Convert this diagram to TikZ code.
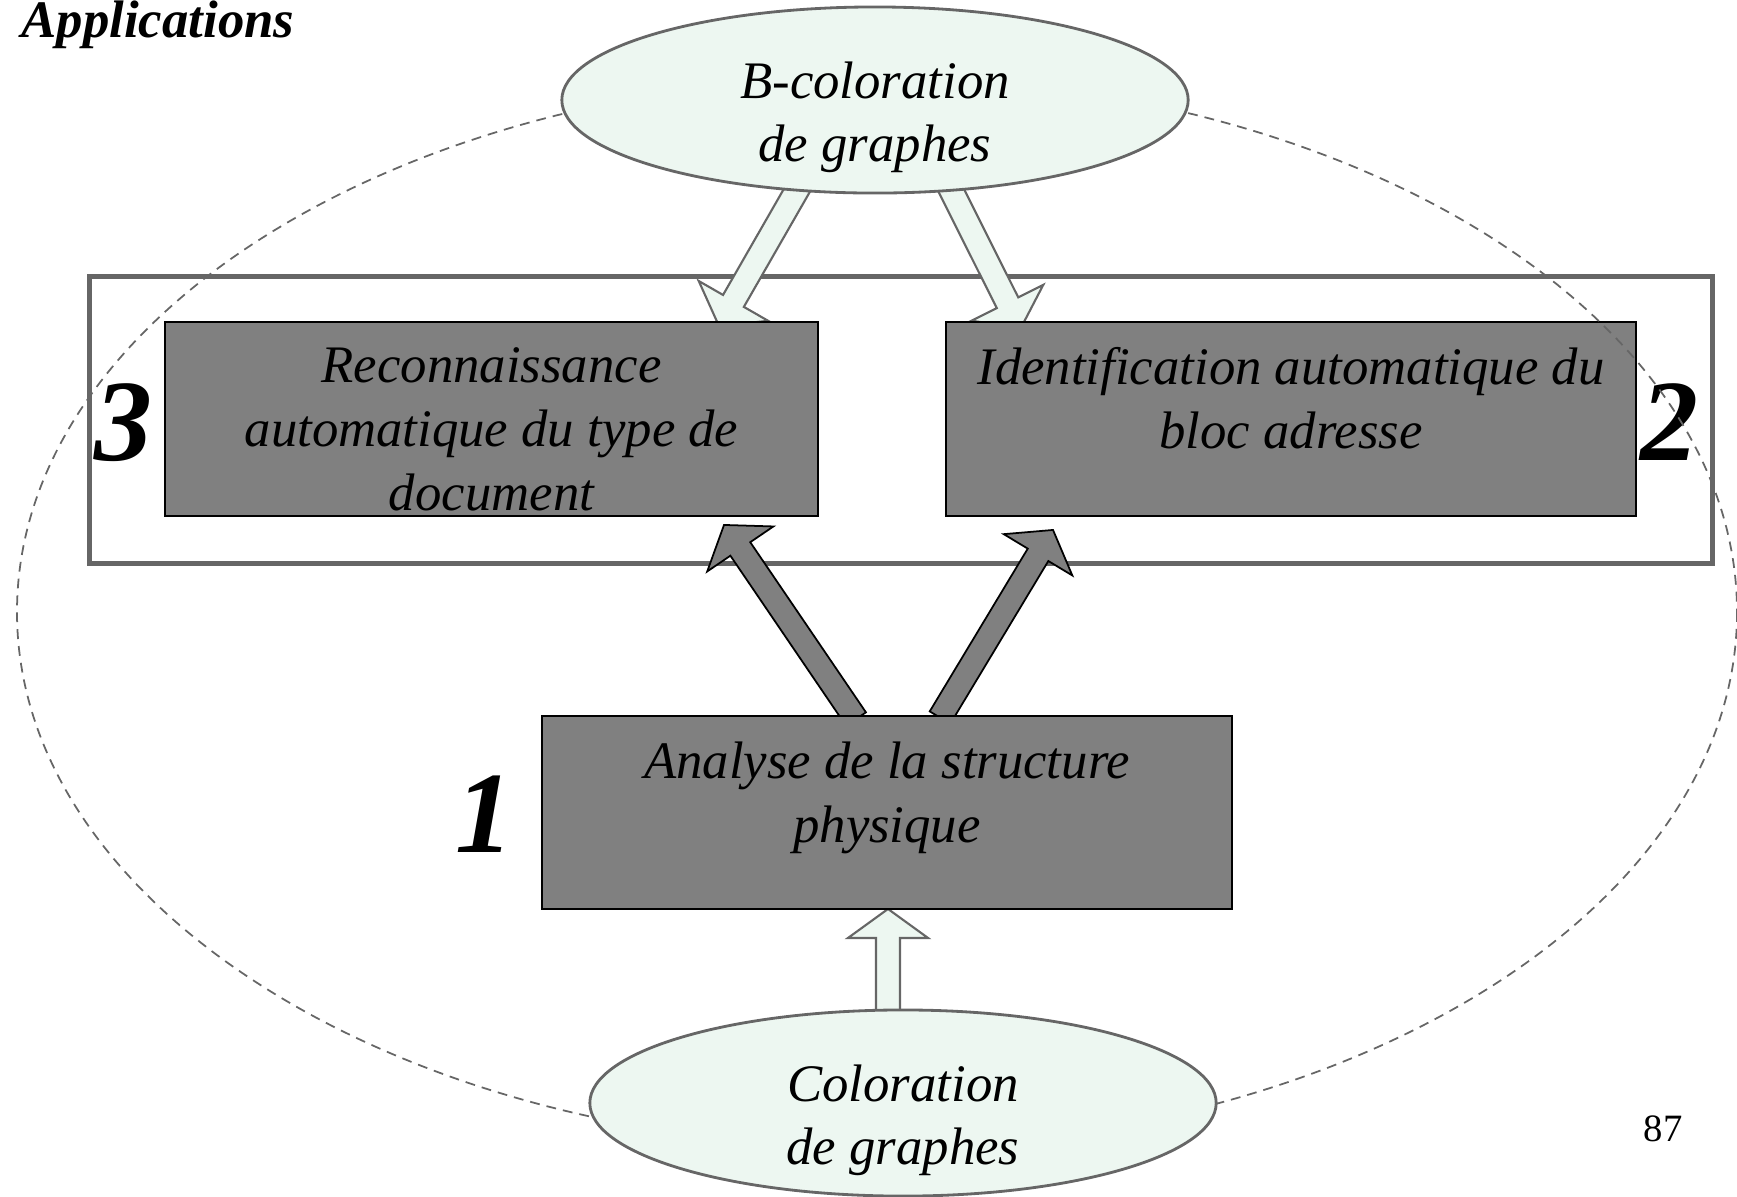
\documentclass[tikz,border=0pt]{standalone}
\usepackage{fontspec}
\setmainfont{Liberation Serif}
\usepackage{xcolor}
\usepackage{tikz}
\usetikzlibrary{calc, shapes.geometric}
\definecolor{mintfill}{RGB}{237,247,241}
\definecolor{boxgray}{RGB}{128,128,128}
\definecolor{linegray}{RGB}{102,102,102}

\pgfdeclarelayer{back}
\pgfsetlayers{back,main}

\tikzset{
    bubble/.style={ellipse, draw=linegray, line width=0.8pt, fill=mintfill,
        minimum width=6.26cm, minimum height=1.86cm, inner sep=0pt},
    stage/.style={rectangle, draw=black, line width=0.5pt, fill=boxgray, inner sep=0pt},
    itxt/.style={font=\itshape\fontsize{15}{18.1}\selectfont, align=center, inner sep=0pt},
    bignum/.style={font=\bfseries\itshape\fontsize{33}{36}\selectfont, inner sep=0pt, anchor=base},
    lightarrow/.style={fill=mintfill, draw=linegray, line width=0.6pt},
    darkarrow/.style={fill=boxgray, draw=black, line width=0.5pt}
}

% block arrow: [style]{tail}{tip}
\newcommand{\blockarrow}[3][]{%
    \coordinate (ba-h) at ($(#3)!0.29cm!(#2)$);
    \draw[#1] ($(#2)!0.12cm!90:(#3)$) -- ($(ba-h)!0.12cm!90:(#3)$)
        -- ($(ba-h)!0.40cm!90:(#3)$) -- (#3) -- ($(ba-h)!0.40cm!-90:(#3)$)
        -- ($(ba-h)!0.12cm!-90:(#3)$) -- ($(#2)!0.12cm!-90:(#3)$) -- cycle;
}

\begin{document}
\begin{tikzpicture}[x=0.01cm, y=-0.01cm]
    \useasboundingbox (0,0) rectangle (1737,1196);

    \node[font=\bfseries\itshape\fontsize{15}{18}\selectfont, anchor=base west, inner sep=0pt] (title) at (21,37) {Applications};
    \node[font=\fontsize{11}{13}\selectfont, anchor=base, inner sep=0pt] (page) at (1663,1141) {87};

    % stages and graph colourings
    \node[stage, minimum width=6.53cm, minimum height=1.94cm] (reco) at (491.5,419) {};
    \node[stage, minimum width=6.90cm, minimum height=1.94cm] (ident) at (1291,419) {};
    \node[stage, minimum width=6.90cm, minimum height=1.93cm] (anal) at (887,812.5) {};
    \node[itxt, anchor=north] (recot) at ([yshift=-0.26cm]reco.north) {Reconnaissance\\automatique du type de\\document};
    \node[itxt, anchor=north] (identt) at ([yshift=-0.26cm]ident.north) {Identification automatique du\\bloc adresse};
    \node[itxt, anchor=north] (analt) at ([yshift=-0.26cm]anal.north) {Analyse de la structure\\physique};

    \node[bignum] (n3) at (124,460) {3};
    \node[bignum] (n2) at (1669,460) {2};
    \node[bignum] (n1) at (485,852) {1};

    \draw[linegray, line width=0.5pt, dash pattern=on 2.8pt off 2pt] (877,612) ellipse (860 and 535);

    \node[bubble] (bcol) at (875,100) {};
    \node[bubble] (col) at (903,1103) {};
    \node[itxt, anchor=north] (bcolt) at ([yshift=0.39cm]bcol.center) {B-coloration\\de graphes};
    \node[itxt, anchor=north] (colt) at ([yshift=0.39cm]col.center) {Coloration\\de graphes};

    % frame and arrows go underneath
    \begin{pgfonlayer}{back}
        \node[draw=linegray, line width=1.4pt, minimum width=16.22cm, minimum height=2.86cm, inner sep=0pt] (appli) at (901,420) {};

        \coordinate (bl-s) at ($(bcol.center)+(-59,57)$);
        \coordinate (bl-e) at ($(reco.north)+(227.5,5)$);
        \coordinate (br-s) at ($(bcol.center)+(59,56)$);
        \coordinate (br-e) at ($(ident.north)+(-270.5,7.6)$);
        \coordinate (dl-s) at ($(anal.north)+(-31,4)$);
        \coordinate (dl-e) at ($(reco.south)+(232.5,8)$);
        \coordinate (dr-s) at ($(anal.north)+(53,2.5)$);
        \coordinate (dr-e) at ($(ident.south)+(-238,13)$);
        \coordinate (up-s) at ($(col.center)+(-15,-63)$);
        \coordinate (up-e) at ($(anal.south)+(1,-1)$);

        \blockarrow[lightarrow]{bl-s}{bl-e}
        \blockarrow[lightarrow]{br-s}{br-e}
        \blockarrow[darkarrow]{dl-s}{dl-e}
        \blockarrow[darkarrow]{dr-s}{dr-e}
        \blockarrow[lightarrow]{up-s}{up-e}
    \end{pgfonlayer}
\end{tikzpicture}
\end{document}
